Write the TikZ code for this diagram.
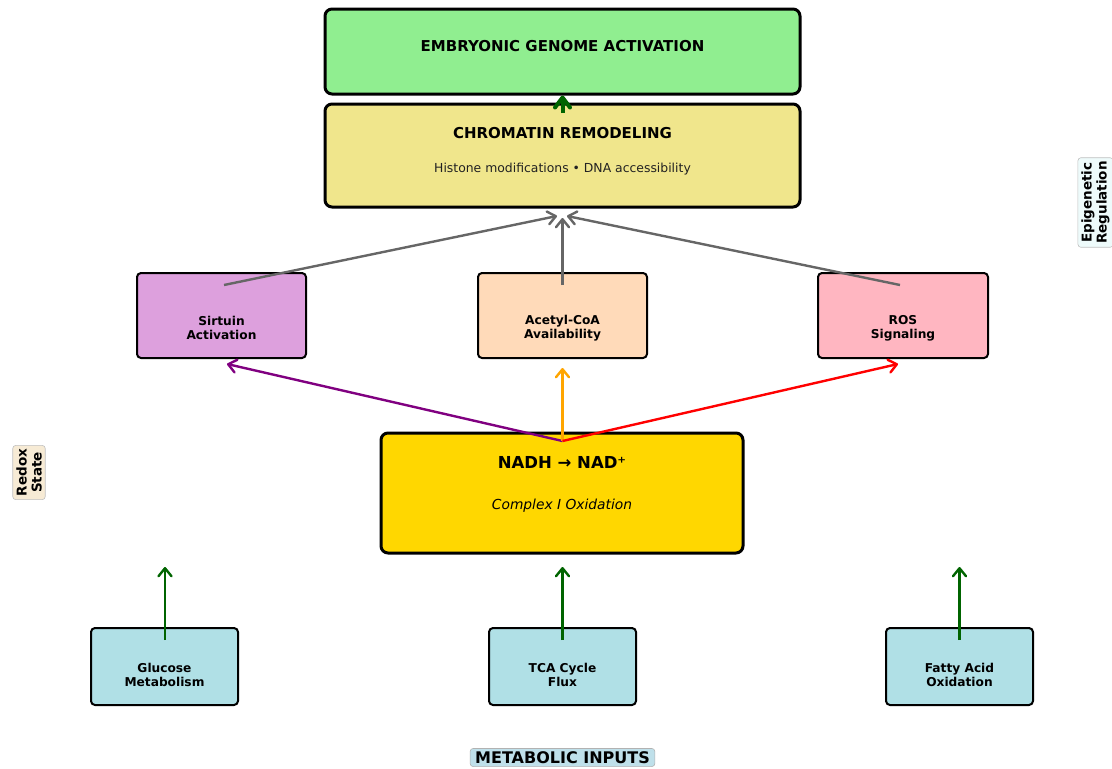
\documentclass[tikz,border=0pt]{standalone}
\usepackage{fontspec}
\setmainfont{DejaVu Sans}
\usetikzlibrary{arrows.meta}
\definecolor{cgea}{HTML}{90EE90}
\definecolor{cchrom}{HTML}{F0E68C}
\definecolor{csirt}{HTML}{DDA0DD}
\definecolor{cacoa}{HTML}{FFDAB9}
\definecolor{cros}{HTML}{FFB6C1}
\definecolor{cinput}{HTML}{B0E0E6}
\definecolor{cnadh}{HTML}{FFD700}
\definecolor{cdgreen}{HTML}{006400}
\definecolor{cgrayarr}{HTML}{666666}
\definecolor{cpurple}{HTML}{800080}
\definecolor{corange}{HTML}{FFA500}
\definecolor{cred}{HTML}{FF0000}
\definecolor{credox}{HTML}{F7EBD5}
\definecolor{cepi}{HTML}{EEFBFB}
\definecolor{cmeta}{HTML}{BFE0EA}
\definecolor{csub}{HTML}{222222}
\begin{document}
\begin{tikzpicture}[x=1pt,y=-1pt,
  bigbox/.style={draw=black, line width=3pt, rounded corners=7pt, inner sep=0pt},
  smallbox/.style={draw=black, line width=2pt, rounded corners=4pt, inner sep=0pt},
  boxtext/.style={align=center, font=\fontsize{12.2}{14}\selectfont\bfseries, inner sep=0pt},
  titletext/.style={font=\fontsize{15}{18}\selectfont\bfseries, inner sep=0pt},
  sidelabel/.style={draw=black!25, line width=0.6pt, rounded corners=3pt, inner sep=3.5pt, align=center, font=\fontsize{13.5}{15}\selectfont\bfseries},
  arr/.style={line width=2.4pt, -{Straight Barb[length=8pt,width=13pt,round]}},
]
\useasboundingbox (0,0) rectangle (1112,769);

% large boxes
\node[bigbox, fill=cgea, minimum width=475pt, minimum height=85pt] (gea) at (562.5,51.5) {};
\node[titletext] (geat) at (562.5,46) {EMBRYONIC GENOME ACTIVATION};

\node[bigbox, fill=cchrom, minimum width=475pt, minimum height=103pt] (chrom) at (562.5,155.5) {};
\node[titletext] (chromt) at (562.5,133) {CHROMATIN REMODELING};
\node[font=\fontsize{12.4}{14}\selectfont, text=csub, inner sep=0pt] (chroms) at (562.5,169) {Histone modifications • DNA accessibility};

\coordinate (chromup) at (562.5,113);
\draw[line width=4pt, cdgreen, -{Straight Barb[length=10pt,width=15pt,round]}] (chromup) -- (gea.south);

% middle boxes
\node[smallbox, fill=csirt, minimum width=169pt, minimum height=85pt] (sirt) at (221.5,315.5) {};
\node[boxtext] (sirtt) at (221.5,328) {Sirtuin\\Activation};
\node[smallbox, fill=cacoa, minimum width=169pt, minimum height=85pt] (acoa) at (562.5,315.5) {};
\node[boxtext] (acoat) at (562.5,328) {Acetyl-CoA\\Availability};
\node[smallbox, fill=cros, minimum width=170pt, minimum height=85pt] (ros) at (903,315.5) {};
\node[boxtext] (rost) at (903,328) {ROS\\Signaling};

% NADH box
\node[bigbox, fill=cnadh, minimum width=362pt, minimum height=120pt] (nadh) at (562,493) {};
\node[font=\fontsize{16.5}{19}\selectfont\bfseries, inner sep=0pt] (nadht) at (562,462) {NADH → NAD⁺};
\node[font=\fontsize{13.8}{16}\selectfont\itshape, inner sep=0pt] (nadhs) at (562,506) {Complex I Oxidation};

% bottom boxes
\node[smallbox, fill=cinput, minimum width=147pt, minimum height=77pt] (glu) at (164.5,666.5) {};
\node[boxtext] (glut) at (164.5,675) {Glucose\\Metabolism};
\node[smallbox, fill=cinput, minimum width=147pt, minimum height=77pt] (tca) at (562.5,666.5) {};
\node[boxtext] (tcat) at (562.5,675) {TCA Cycle\\Flux};
\node[smallbox, fill=cinput, minimum width=147pt, minimum height=77pt] (fao) at (959.5,666.5) {};
\node[boxtext] (faot) at (959.5,675) {Fatty Acid\\Oxidation};

% side labels
\node[sidelabel, fill=credox, rotate=90] (redox) at (29,472.5) {Redox\\State};
\node[sidelabel, fill=cepi, rotate=90] (epi) at (1095.5,202.5) {Epigenetic\\Regulation};
\node[draw=black!30, line width=0.6pt, rounded corners=3pt, fill=cmeta, inner xsep=5pt, inner ysep=3pt, font=\fontsize{16}{18}\selectfont\bfseries] (meta) at (562.5,757.5) {METABOLIC INPUTS};

% coordinates for arrows
\coordinate (sirtS) at (224,285);
\coordinate (acoaS) at (562.5,285);
\coordinate (rosS) at (900,285);
\coordinate (chL) at (557,216);
\coordinate (chM) at (562.5,218);
\coordinate (chR) at (567,216);

\coordinate (nadhS) at (562.5,441);
\coordinate (sirtE) at (227,364);
\coordinate (acoaE) at (562.5,368);
\coordinate (rosE) at (898,364);

\coordinate (gluS) at (165,640);
\coordinate (gluE) at (165,567);
\coordinate (tcaS) at (562.5,640);
\coordinate (tcaE) at (562.5,567);
\coordinate (faoS) at (959.5,640);
\coordinate (faoE) at (959.5,567);

% arrows
\draw[arr, cgrayarr] (sirtS) -- (chL);
\draw[arr, cgrayarr] (acoaS) -- (chM);
\draw[arr, cgrayarr] (rosS) -- (chR);

\draw[arr, cpurple] (nadhS) -- (sirtE);
\draw[arr, corange] (nadhS) -- (acoaE);
\draw[arr, cred] (nadhS) -- (rosE);

\draw[arr, cdgreen] (gluS) -- (gluE);
\draw[arr, cdgreen] (tcaS) -- (tcaE);
\draw[arr, cdgreen] (faoS) -- (faoE);
\end{tikzpicture}
\end{document}
